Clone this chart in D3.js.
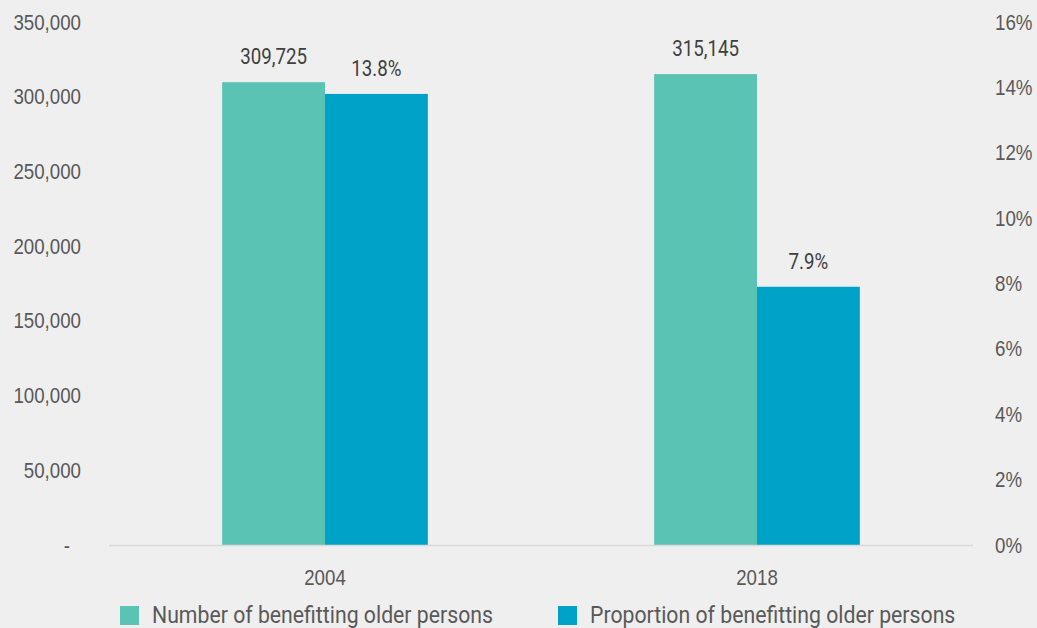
<!DOCTYPE html>
<html><head><meta charset="utf-8">
<script src="https://cdn.jsdelivr.net/npm/d3@7"></script>
<style>
html,body{margin:0;padding:0;background:#efefef;}
svg{display:block;font-family:"Roboto","Liberation Sans",sans-serif;}
</style></head><body>
<svg id="c" width="1037" height="628"></svg>
<script>
const years = ["2004", "2018"];
const numberValues = [309725, 315145];
const proportionValues = [13.8, 7.9];
const leftTicks = [0, 50000, 100000, 150000, 200000, 250000, 300000, 350000];
const rightTicks = [0, 2, 4, 6, 8, 10, 12, 14, 16];
const seriesNames = ["Number of benefitting older persons", "Proportion of benefitting older persons"];
const colors = ["#5bc3b3", "#00a2c7"];

const svg = d3.select("#c");
const W = 1037, H = 628;
const m = {l:109, r:64, t:22, b:83};
const x0 = d3.scaleBand().domain(years).range([m.l, W - m.r]).paddingInner(0).paddingOuter(0);
const x1 = d3.scaleBand().domain([0,1]).range([0, x0.bandwidth()]).paddingInner(0).paddingOuter(1.1);
const yL = d3.scaleLinear().domain([0, 350000]).range([H - m.b, m.t]);
const yR = d3.scaleLinear().domain([0, 16]).range([H - m.b, m.t]);
const textColor = "#595959";
const FS = 22;
const K = 0.85; // horizontal condensing to mimic a condensed face

// left axis
const fmt = d3.format(",");
const la = svg.append("g").attr("transform", `translate(81,0) scale(${K},1)`)
  .call(d3.axisLeft(yL).tickValues(leftTicks).tickSize(0).tickPadding(0).tickFormat(d => d === 0 ? "-" : fmt(d)));
la.select(".domain").remove();
la.selectAll("text").attr("font-size", FS).attr("fill", textColor).attr("font-family", null)
  .attr("x", d => d === 0 ? -11 / K : 0);

// right axis
const ra = svg.append("g").attr("transform", `translate(995,0) scale(${K},1)`)
  .call(d3.axisRight(yR).tickValues(rightTicks).tickSize(0).tickPadding(0).tickFormat(d => d + "%"));
ra.select(".domain").remove();
ra.selectAll("text").attr("font-size", FS).attr("fill", textColor).attr("font-family", null);

// bars
const g = svg.append("g");
const labelsG = svg.append("g");
years.forEach((yr, i) => {
  const vals = [numberValues[i], proportionValues[i]];
  const scales = [yL, yR];
  const labels = [fmt(numberValues[i]), proportionValues[i].toFixed(1) + "%"];
  vals.forEach((v, j) => {
    const x = x0(yr) + x1(j);
    const y = scales[j](v);
    g.append("rect").attr("x", x).attr("y", y).attr("width", x1.bandwidth())
      .attr("height", scales[j](0) - y).attr("fill", colors[j]);
    labelsG.append("text").attr("x", x + x1.bandwidth()/2).attr("y", y - 18)
      .attr("text-anchor", "middle").attr("font-size", FS).attr("fill", "#404040").text(labels[j]);
  });
});

// x axis
svg.append("line").attr("x1", m.l).attr("x2", W - m.r).attr("y1", yL(0) + 0.5).attr("y2", yL(0) + 0.5)
  .attr("stroke", "#d9d9d9").attr("stroke-width", 1.5);
const xa = svg.append("g").attr("transform", `translate(0,${yL(0)})`)
  .call(d3.axisBottom(x0).tickSize(0).tickPadding(24));
xa.select(".domain").remove();
xa.selectAll("text").attr("font-size", FS).attr("fill", textColor).attr("font-family", null);

// condense bar labels and year labels
labelsG.selectAll("text").each(function(){
  const l = this.getComputedTextLength();
  this.setAttribute("textLength", l * K);
  this.setAttribute("lengthAdjust", "spacingAndGlyphs");
});
xa.selectAll("text").each(function(){
  const l = this.getComputedTextLength();
  this.setAttribute("textLength", l * K);
  this.setAttribute("lengthAdjust", "spacingAndGlyphs");
});

// legend
const legX = [120, 558];
seriesNames.forEach((n, i) => {
  const lg = svg.append("g").attr("transform", `translate(${legX[i]},606)`);
  lg.append("rect").attr("width", 19).attr("height", 19).attr("fill", colors[i]);
  const t = lg.append("text").attr("x", 32).attr("y", 16.5).attr("font-size", 24).attr("fill", textColor).text(n);
  const l = t.node().getComputedTextLength();
  t.attr("textLength", l * 0.885).attr("lengthAdjust", "spacingAndGlyphs");
});
</script>
</body></html>
